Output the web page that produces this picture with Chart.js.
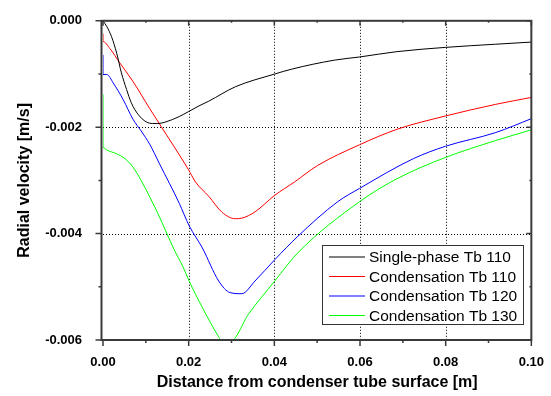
<!DOCTYPE html>
<html lang="en">
<head>
<meta charset="UTF-8">
<title>Radial velocity</title>
<script src="https://cdn.jsdelivr.net/npm/chart.js"></script>
<style>
  html, body { margin: 0; padding: 0; background: #fff; }
  #wrap { width: 551px; height: 396px; }
</style>
</head>
<body>
<div id="wrap"><canvas id="grafico" width="551" height="396"></canvas></div>
<script>
// axis ticks
const xTicks = [0, 0.02, 0.04, 0.06, 0.08, 0.1];
const xMinor = [0.01, 0.03, 0.05, 0.07, 0.09];
const yTicks = [0, -0.002, -0.004, -0.006];
const yMinor = [-0.001, -0.003, -0.005];

// series
const singleX = [0, 0.0009, 0.0020, 0.0032, 0.0043, 0.0055, 0.0066, 0.0082, 0.0101, 0.0116, 0.0128, 0.0147, 0.0178, 0.0199, 0.0224, 0.0247, 0.0309, 0.0401, 0.0440, 0.0540, 0.0599, 0.0686, 0.0799, 0.0917, 0.1];
const singleY = [0, -0.00011, -0.00030, -0.00061, -0.00098, -0.00129, -0.00154, -0.00176, -0.00190, -0.00193, -0.00193, -0.00190, -0.00180, -0.00171, -0.00160, -0.00151, -0.00124, -0.00100, -0.00091, -0.00074, -0.00068, -0.00058, -0.00050, -0.00044, -0.00040];

const cond110X = [0, 0, 0.0016, 0.0039, 0.0070, 0.0109, 0.0132, 0.0199, 0.0216, 0.0247, 0.0278, 0.0309, 0.0324, 0.0355, 0.0401, 0.0447, 0.0501, 0.0599, 0.0686, 0.0799, 0.0917, 0.1];
const cond110Y = [-0.00024, -0.00039, -0.00052, -0.00079, -0.00114, -0.00165, -0.00194, -0.00279, -0.00303, -0.00330, -0.00360, -0.00372, -0.00371, -0.00359, -0.00328, -0.00303, -0.00272, -0.00233, -0.00204, -0.00179, -0.00157, -0.00144];

const cond120X = [0, 0, 0.0009, 0.0024, 0.0047, 0.0070, 0.0089, 0.0109, 0.0132, 0.0178, 0.0201, 0.0232, 0.0270, 0.0297, 0.0324, 0.0355, 0.0401, 0.0455, 0.0548, 0.0599, 0.0725, 0.0799, 0.0917, 0.1];
const cond120Y = [-0.00064, -0.00101, -0.00101, -0.00117, -0.00148, -0.00185, -0.00207, -0.00232, -0.00269, -0.00343, -0.00385, -0.00427, -0.00489, -0.00511, -0.00513, -0.00489, -0.00449, -0.00405, -0.00340, -0.00315, -0.00259, -0.00236, -0.00210, -0.00184];

const cond130X = [0, 0, 0.0009, 0.0032, 0.0051, 0.0070, 0.0089, 0.0109, 0.0128, 0.0147, 0.0166, 0.0186, 0.0201, 0.0232, 0.0270, 0.0278, 0.0297, 0.0340, 0.0401, 0.0455, 0.0599, 0.0686, 0.0799, 0.0917, 0.1];
const cond130Y = [-0.00138, -0.00238, -0.00243, -0.00250, -0.00259, -0.00275, -0.00300, -0.00331, -0.00362, -0.00396, -0.00430, -0.00461, -0.00489, -0.00539, -0.00594, -0.00603, -0.00603, -0.00551, -0.00489, -0.00436, -0.00340, -0.00297, -0.00257, -0.00225, -0.00205];

const etiquetas = ['Single-phase Tb 110', 'Condensation Tb 110', 'Condensation Tb 120', 'Condensation Tb 130'];
const colores = ['#000000', '#ff0000', '#0000ff', '#00ff00'];

function puntos(xs, ys) {
  return xs.map((x, i) => ({ x: x, y: ys[i] }));
}

const series = [[singleX, singleY], [cond110X, cond110Y], [cond120X, cond120Y], [cond130X, cond130Y]];
const datasets = series.map((s, i) => ({
  label: etiquetas[i],
  data: puntos(s[0], s[1]),
  borderColor: colores[i],
  backgroundColor: colores[i],
  borderWidth: 1,
  pointRadius: 0,
  fill: false,
  cubicInterpolationMode: 'monotone'
}));

const FUENTE = '"Liberation Sans", Arial, sans-serif';

// dotted grid, frame, ticks and the boxed legend
const marco = {
  id: 'marco',
  beforeDatasetsDraw(chart) {
    const { ctx, chartArea: a, scales } = chart;
    ctx.save();
    ctx.strokeStyle = '#000';
    ctx.lineWidth = 1;
    ctx.setLineDash([1, 2]);
    xTicks.slice(1, -1).forEach(v => {
      const px = Math.round(scales.x.getPixelForValue(v)) + 0.5;
      ctx.beginPath(); ctx.moveTo(px, a.top); ctx.lineTo(px, a.bottom); ctx.stroke();
    });
    yTicks.slice(1, -1).forEach(v => {
      const py = Math.round(scales.y.getPixelForValue(v)) + 0.5;
      ctx.beginPath(); ctx.moveTo(a.left, py); ctx.lineTo(a.right, py); ctx.stroke();
    });
    ctx.restore();
  },
  afterDatasetsDraw(chart) {
    const { ctx, chartArea: a, scales } = chart;
    const izq = a.left - 1.5;
    ctx.save();
    ctx.strokeStyle = '#3a3a3a';
    ctx.lineWidth = 2;
    ctx.strokeRect(izq, a.top, a.right - izq, a.bottom - a.top);
    ctx.lineWidth = 1.5;
    const marca = (vals, largo) => {
      vals.forEach(v => {
        const px = scales.x.getPixelForValue(v);
        ctx.beginPath();
        ctx.moveTo(px, a.bottom); ctx.lineTo(px, a.bottom + largo);
        ctx.moveTo(px, a.top); ctx.lineTo(px, a.top + largo - 1);
        ctx.stroke();
      });
    };
    const marcaY = (vals, largo) => {
      vals.forEach(v => {
        const py = scales.y.getPixelForValue(v);
        ctx.beginPath();
        ctx.moveTo(izq, py); ctx.lineTo(izq - largo, py);
        ctx.moveTo(a.right, py); ctx.lineTo(a.right - largo + 1, py);
        ctx.stroke();
      });
    };
    marca(xTicks, 6); marca(xMinor, 3);
    marcaY(yTicks, 6); marcaY(yMinor, 3);
    ctx.restore();
  },
  afterDraw(chart) {
    const { ctx } = chart;
    const bx = 322, by = 245, bw = 201, bh = 79;
    ctx.save();
    ctx.fillStyle = '#fff';
    ctx.fillRect(bx, by, bw, bh);
    ctx.strokeStyle = '#333';
    ctx.lineWidth = 1;
    ctx.strokeRect(bx + 0.5, by + 0.5, bw, bh);
    ctx.font = '15.5px ' + FUENTE;
    ctx.textBaseline = 'middle';
    ctx.fillStyle = '#000';
    chart.data.datasets.forEach((d, i) => {
      const y = by + 12 + i * 19.5;
      ctx.strokeStyle = d.borderColor;
      ctx.beginPath(); ctx.moveTo(bx + 7, y); ctx.lineTo(bx + 43, y); ctx.stroke();
      ctx.fillText(d.label, bx + 47, y + 1);
    });
    ctx.restore();
  }
};

const grafico = new Chart(document.getElementById('grafico').getContext('2d'), {
  type: 'line',
  data: { datasets: datasets },
  plugins: [marco],
  options: {
    responsive: false,
    animation: false,
    layout: { padding: { top: 17, right: 15, left: 0, bottom: 0 } },
    plugins: { legend: { display: false }, tooltip: { enabled: false } },
    scales: {
      x: {
        type: 'linear',
        min: 0, max: 0.1,
        afterBuildTicks: s => { s.ticks = xTicks.map(v => ({ value: v })); },
        afterFit: s => { s.height = 56; },
        grid: { display: false },
        border: { display: false },
        ticks: {
          padding: 7,
          color: '#000',
          font: { family: FUENTE, size: 13, weight: 'bold' },
          callback: v => v.toFixed(2)
        },
        title: {
          display: true,
          text: 'Distance from condenser tube surface [m]',
          color: '#000',
          font: { family: FUENTE, size: 16, weight: 'bold' },
          padding: { top: 0, bottom: 3.5 }
        }
      },
      y: {
        min: -0.006, max: 0,
        afterBuildTicks: s => { s.ticks = yTicks.map(v => ({ value: v })); },
        afterFit: s => { s.width = 103; },
        grid: { display: false },
        border: { display: false },
        ticks: {
          padding: 13,
          color: '#000',
          font: { family: FUENTE, size: 13, weight: 'bold' },
          callback: v => v.toFixed(3)
        },
        title: {
          display: true,
          text: 'Radial velocity [m/s]',
          color: '#000',
          font: { family: FUENTE, size: 16, weight: 'bold' },
          padding: { top: 15, bottom: 0 }
        }
      }
    }
  }
});
</script>
</body>
</html>
